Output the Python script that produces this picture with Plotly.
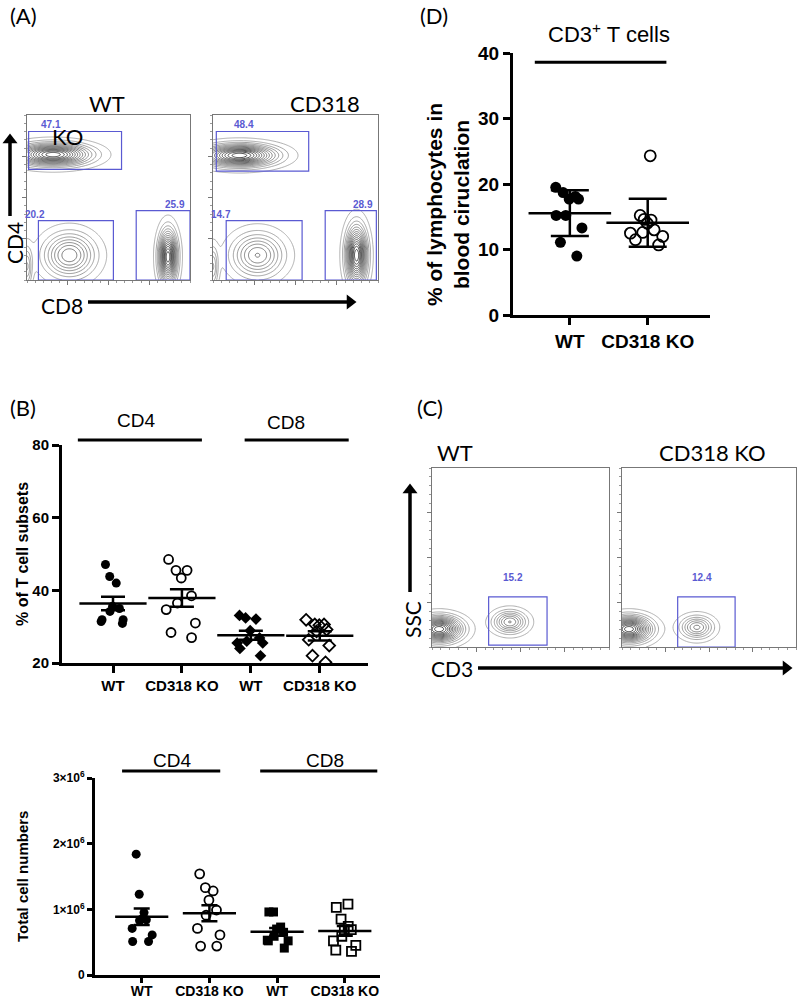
import numpy as np
import plotly.graph_objects as go

W, H = 800, 997

# ---------------- data ----------------
# (D) CD3+ T cells, % of lymphocytes in blood circulation (mean +/- SD)
d_wt = [19.5, 18.1, 17.7, 17.7, 18.7, 15.2, 15.2, 13.3, 11.1, 9.0]
d_ko = [24.3, 15.2, 14.6, 14.5, 14.0, 13.0, 12.5, 12.6, 11.5, 10.7, 12.0]
d_groups = ['WT', 'CD318 KO']

# (B) % of T cell subsets (mean +/- SEM)
pct_cd4_wt = [47.1, 43.8, 42.0, 34.2, 31.4, 30.9, 31.9, 31.9, 35.6, 35.0]
pct_cd4_ko = [48.5, 45.5, 45.5, 43.4, 36.5, 38.5, 34.7, 31.0, 28.4, 27.0]
pct_cd8_wt = [33.1, 32.1, 32.4, 28.9, 26.9, 25.5, 25.5, 26.0, 22.0, 24.0]
pct_cd8_ko = [30.6, 30.6, 31.9, 30.4, 28.7, 29.2, 26.4, 24.8, 22.0, 20.2]

# (B) total cell numbers (mean +/- SEM)
num_cd4_wt = [1.84e6, 1.23e6, 0.95e6, 0.83e6, 0.84e6, 0.85e6, 0.61e6, 0.71e6, 0.51e6, 0.51e6]
num_cd4_ko = [1.54e6, 1.33e6, 1.28e6, 1.14e6, 0.99e6, 0.91e6, 0.61e6, 0.71e6, 0.44e6, 0.44e6]
num_cd8_wt = [0.96e6, 0.96e6, 0.70e6, 0.73e6, 0.59e6, 0.53e6, 0.41e6, 0.52e6, 0.52e6, 0.65e6]
num_cd8_ko = [1.08e6, 1.03e6, 0.85e6, 0.74e6, 0.69e6, 0.59e6, 0.69e6, 0.45e6, 0.36e6, 0.38e6, 0.52e6]

b_groups = ['WT', 'CD318 KO', 'WT', 'CD318 KO']

# flow gate frequencies (A: CD4+, DN, CD8+ ; C: CD3+)
a_wt_pct = [47.1, 20.2, 25.9]
a_ko_pct = [48.4, 14.7, 28.9]
c_wt_pct = [15.2]
c_ko_pct = [12.4]

# gate boxes (x0, x1, y0, y1) in plot units and label anchors
a_wt_gates = [(0.01, 0.58, 0.67, 0.90), (0.07, 0.53, 0.0, 0.36), (0.67, 1.0, 0.0, 0.42)]
a_ko_gates = [(0.02, 0.58, 0.66, 0.90), (0.08, 0.54, 0.0, 0.36), (0.68, 0.99, 0.0, 0.42)]
a_wt_lab = [(0.15, 0.945), (0.05, 0.395), (0.91, 0.46)]
a_ko_lab = [(0.19, 0.945), (0.05, 0.395), (0.91, 0.455)]
c_wt_gates = [(0.32, 0.65, 0.01, 0.28)]
c_ko_gates = [(0.32, 0.65, 0.0, 0.28)]
c_lab = [(0.46, 0.39)]

# population blobs (cx, cy, sx, sy, weight)
a_wt_pops = [(0.16, 0.76, 0.14, 0.042, 1.0), (0.26, 0.15, 0.10, 0.085, 0.55),
             (0.865, 0.14, 0.035, 0.10, 1.0), (0.0, 0.08, 0.02, 0.08, 0.3)]
a_ko_pops = [(0.16, 0.755, 0.14, 0.042, 1.0), (0.27, 0.15, 0.10, 0.085, 0.5),
             (0.87, 0.15, 0.04, 0.11, 1.0), (0.0, 0.08, 0.02, 0.08, 0.3)]
c_wt_pops = [(0.04, 0.10, 0.08, 0.045, 1.0), (0.44, 0.14, 0.06, 0.04, 0.5)]
c_ko_pops = [(0.04, 0.10, 0.08, 0.045, 1.0), (0.43, 0.11, 0.06, 0.04, 0.45)]


def dom(x0, x1, y0, y1):
    return [x0 / W, x1 / W], [1 - y1 / H, 1 - y0 / H]


fig = go.Figure()

ARIAL = 'Liberation Sans'
CAL = 'Lato'
GATE = '#5a5ad2'


def add_flow(pops, gates, pcts, labs, xa, ya):
    g = np.linspace(0, 1, 161)
    gx, gy = np.meshgrid(g, g)
    z = np.zeros_like(gx)
    for cx, cy, sx, sy, w in pops:
        z += w * np.exp(-0.5 * (((gx - cx) / sx) ** 2 + ((gy - cy) / sy) ** 2))
    fig.add_trace(go.Contour(
        x=g, y=g, z=z, xaxis=xa, yaxis=ya, showscale=False, hoverinfo='skip',
        contours=dict(coloring='lines', start=0.04, end=1.0, size=0.065),
        colorscale=[[0, '#9a9a9a'], [1, '#1a1a1a']], line=dict(width=0.8)))
    for (x0, x1, y0, y1), p, (lx, ly) in zip(gates, pcts, labs):
        fig.add_shape(type='rect', xref=xa, yref=ya, x0=x0, x1=x1, y0=y0, y1=y1,
                      line=dict(color=GATE, width=1.2))
        fig.add_annotation(x=lx, y=ly, xref=xa, yref=ya, text=f'{p}', showarrow=False,
                           font=dict(family=ARIAL, size=10, color=GATE, weight='bold'))


def add_dots(xpos, vals, symbol, size, xa, ya, jit, err, mean_w, cap):
    opened = symbol.endswith('open')
    fig.add_trace(go.Box(
        x=[xpos] * len(vals), y=vals, boxpoints='all', jitter=jit, pointpos=0, width=0.6,
        fillcolor='rgba(0,0,0,0)', line=dict(color='rgba(0,0,0,0)', width=0),
        marker=dict(symbol=symbol, size=size, color='black',
                    line=dict(color='black', width=1.8 if opened else 0)),
        xaxis=xa, yaxis=ya, showlegend=False, hoverinfo='y'))
    m = float(np.mean(vals))
    sd = float(np.std(vals, ddof=1))
    e = sd if err == 'sd' else sd / np.sqrt(len(vals))
    fig.add_trace(go.Scatter(
        x=[xpos], y=[m], mode='markers', cliponaxis=False, showlegend=False, hoverinfo='skip',
        marker=dict(symbol='line-ew', size=mean_w, color='black', line=dict(width=2.5, color='black')),
        error_y=dict(type='data', array=[e], color='black', thickness=2.5, width=cap),
        xaxis=xa, yaxis=ya))


def group_bar(xa, ya, x0, x1, yval, yr):
    # bar above a group of columns; y given in data units, mapped onto the axis domain
    yd = (yval - yr[0]) / (yr[1] - yr[0])
    fig.add_shape(type='line', xref=xa, yref=f'{ya} domain', x0=x0, x1=x1, y0=yd, y1=yd,
                  line=dict(color='black', width=3))


# ---- (A) flow plots ----
add_flow(a_wt_pops, a_wt_gates, a_wt_pct, a_wt_lab, 'x', 'y')
add_flow(a_ko_pops, a_ko_gates, a_ko_pct, a_ko_lab, 'x2', 'y2')
# ---- (C) flow plots ----
add_flow(c_wt_pops, c_wt_gates, c_wt_pct, c_lab, 'x5', 'y5')
add_flow(c_ko_pops, c_ko_gates, c_ko_pct, c_lab, 'x6', 'y6')

# ---- (D) ----
D_YR = [0, 40]
add_dots(0, d_wt, 'circle', 11, 'x3', 'y3', 0.9, 'sd', 59, 19)
add_dots(1, d_ko, 'circle-open', 11, 'x3', 'y3', 0.9, 'sd', 59, 19)
group_bar('x3', 'y3', -0.45, 1.24, 38.6, D_YR)

# ---- (B) % subsets ----
B1_YR = [20, 80]
add_dots(0, pct_cd4_wt, 'circle', 9, 'x4', 'y4', 0.9, 'sem', 48, 12)
add_dots(1, pct_cd4_ko, 'circle-open', 9, 'x4', 'y4', 0.9, 'sem', 48, 12)
add_dots(2, pct_cd8_wt, 'diamond', 9, 'x4', 'y4', 0.9, 'sem', 48, 12)
add_dots(3, pct_cd8_ko, 'diamond-open', 9, 'x4', 'y4', 0.9, 'sem', 48, 12)
group_bar('x4', 'y4', -0.51, 1.29, 81.4, B1_YR)
group_bar('x4', 'y4', 1.91, 3.42, 81.4, B1_YR)

# ---- (B) total numbers ----
B2_YR = [0, 3e6]
add_dots(0, num_cd4_wt, 'circle', 9, 'x7', 'y7', 0.7, 'sem', 38, 8)
add_dots(1, num_cd4_ko, 'circle-open', 9, 'x7', 'y7', 0.7, 'sem', 38, 8)
add_dots(2, num_cd8_wt, 'square', 9, 'x7', 'y7', 0.7, 'sem', 38, 8)
add_dots(3, num_cd8_ko, 'square-open', 9, 'x7', 'y7', 0.7, 'sem', 38, 8)
group_bar('x7', 'y7', -0.29, 1.16, 3.105e6, B2_YR)
group_bar('x7', 'y7', 1.75, 3.48, 3.105e6, B2_YR)


def flow_axes(x0, x1, y0, y1, n):
    dx, dy = dom(x0, x1, y0, y1)
    common = dict(range=[0, 1], showline=True, mirror=True, linecolor='#777', linewidth=1,
                  ticks='outside', ticklen=4, tickcolor='#777', tickvals=[0.25, 0.5, 0.75],
                  showticklabels=False, showgrid=False, zeroline=False, automargin=False,
                  minor=dict(ticks='outside', ticklen=2, tickcolor='#999', dtick=0.05))
    sfx = '' if n == 1 else str(n)
    return {f'xaxis{sfx}': dict(domain=dx, anchor=f'y{sfx}', **common),
            f'yaxis{sfx}': dict(domain=dy, anchor=f'x{sfx}', **common)}


def dot_axes(x0, x1, y0, y1, n, xr, yr, labels, xfs, ytv, ytt, yfs, tl=7, xstand=0):
    dx, dy = dom(x0, x1, y0, y1)
    base = dict(showline=True, linecolor='black', linewidth=3, ticks='outside', ticklen=tl,
                tickwidth=3, tickcolor='black', showgrid=False, zeroline=False, automargin=False)
    return {f'xaxis{n}': dict(domain=dx, anchor=f'y{n}', range=xr, tickvals=list(range(len(labels))),
                              ticktext=labels, ticklabelstandoff=xstand,
                              tickfont=dict(family=ARIAL, size=xfs, color='black', weight='bold'), **base),
            f'yaxis{n}': dict(domain=dy, anchor=f'x{n}', range=yr, tickvals=ytv, ticktext=ytt,
                              tickfont=dict(family=ARIAL, size=yfs, color='black', weight='bold'), **base)}


axes = {}
axes.update(flow_axes(27, 190, 115, 280, 1))
axes.update(flow_axes(213, 378, 115, 280, 2))
axes.update(dot_axes(513, 710, 53, 315, 3, [-0.73, 1.80], D_YR, d_groups, 19,
                     [0, 10, 20, 30, 40], ['0', '10', '20', '30', '40'], 19))
axes.update(dot_axes(62, 368, 445, 663, 4, [-0.74, 3.70], B1_YR, b_groups, 15,
                     [20, 40, 60, 80], ['20', '40', '60', '80'], 15))
axes.update(flow_axes(432, 609, 468, 647, 5))
axes.update(flow_axes(622, 796, 468, 647, 6))
axes.update(dot_axes(95, 380, 778, 975, 7, [-0.69, 3.52], B2_YR, b_groups, 14,
                     [0, 1e6, 2e6, 3e6], ['0', '1×10<sup>6</sup>', '2×10<sup>6</sup>', '3×10<sup>6</sup>'], 12,
                     tl=5, xstand=-4))
# full-page overlay axes (pixel units) used for the hand-drawn axis arrows
axes['xaxis8'] = dict(domain=[0, 1], range=[0, W], anchor='y8', visible=False, automargin=False)
axes['yaxis8'] = dict(domain=[0, 1], range=[H, 0], anchor='x8', visible=False, automargin=False)

fig.update_layout(width=W, height=H, margin=dict(l=0, r=0, t=0, b=0, autoexpand=False),
                  paper_bgcolor='white', plot_bgcolor='rgba(0,0,0,0)', showlegend=False,
                  boxmode='overlay', **axes)


def txt(x, y, s, size, family=CAL, angle=0, xanchor='center', bold=False):
    fig.add_annotation(x=x / W, y=1 - y / H, xref='paper', yref='paper', text=s, showarrow=False,
                       textangle=angle, xanchor=xanchor, yanchor='middle',
                       font=dict(family=family, size=size, color='black', weight='bold' if bold else 'normal'))


def arrow(x0, y0, x1, y1, head):
    fig.add_trace(go.Scatter(x=[x0, x1], y=[y0, y1], mode='lines', xaxis='x8', yaxis='y8',
                             line=dict(color='black', width=3.5), showlegend=False, hoverinfo='skip'))
    fig.add_trace(go.Scatter(x=[x1], y=[y1], mode='markers', xaxis='x8', yaxis='y8',
                             marker=dict(symbol=head, size=13, color='black'),
                             showlegend=False, hoverinfo='skip', cliponaxis=False))


# panel letters
txt(8, 15, '(A)', 22, xanchor='left')
txt(418, 15, '(D)', 22, xanchor='left')
txt(8, 407, '(B)', 22, xanchor='left')
txt(415, 407, '(C)', 22, xanchor='left')

# (A) labels
txt(107, 104, 'WT', 22)
txt(325, 104, 'CD318', 22)
txt(67, 137, 'KO', 22)
txt(14, 243, 'CD4', 21, angle=-90)
txt(62, 305, 'CD8', 21)
arrow(10, 216, 10, 140, 'triangle-up')
arrow(88, 302, 350, 302, 'triangle-right')

# (C) labels
txt(455, 452, 'WT', 22)
txt(712, 452, 'CD318 KO', 22)
txt(412, 620, 'SSC', 21, angle=-90)
txt(452, 668, 'CD3', 21)
arrow(410, 592, 410, 490, 'triangle-up')
arrow(478, 668, 786, 668, 'triangle-right')

# (D) labels
txt(609, 33, 'CD3<sup>+</sup> T cells', 22, family=ARIAL)
txt(448, 205, '% of lymphocytes in<br>blood ciruclation', 21, family=ARIAL, angle=-90, bold=True)

# (B) labels
txt(136, 420, 'CD4', 19, family=ARIAL)
txt(286, 422, 'CD8', 19, family=ARIAL)
txt(22, 554, '% of T cell subsets', 16, family=ARIAL, angle=-90, bold=True)
txt(172, 760, 'CD4', 19, family=ARIAL)
txt(325, 760, 'CD8', 19, family=ARIAL)
txt(22, 877, 'Total cell numbers', 15, family=ARIAL, angle=-90, bold=True)

# page body has a default 8px margin; drop it so the figure sits at the window origin
fig.write_html('out.html', config={'displayModeBar': False},
               post_script="document.body.style.margin='0px';")
